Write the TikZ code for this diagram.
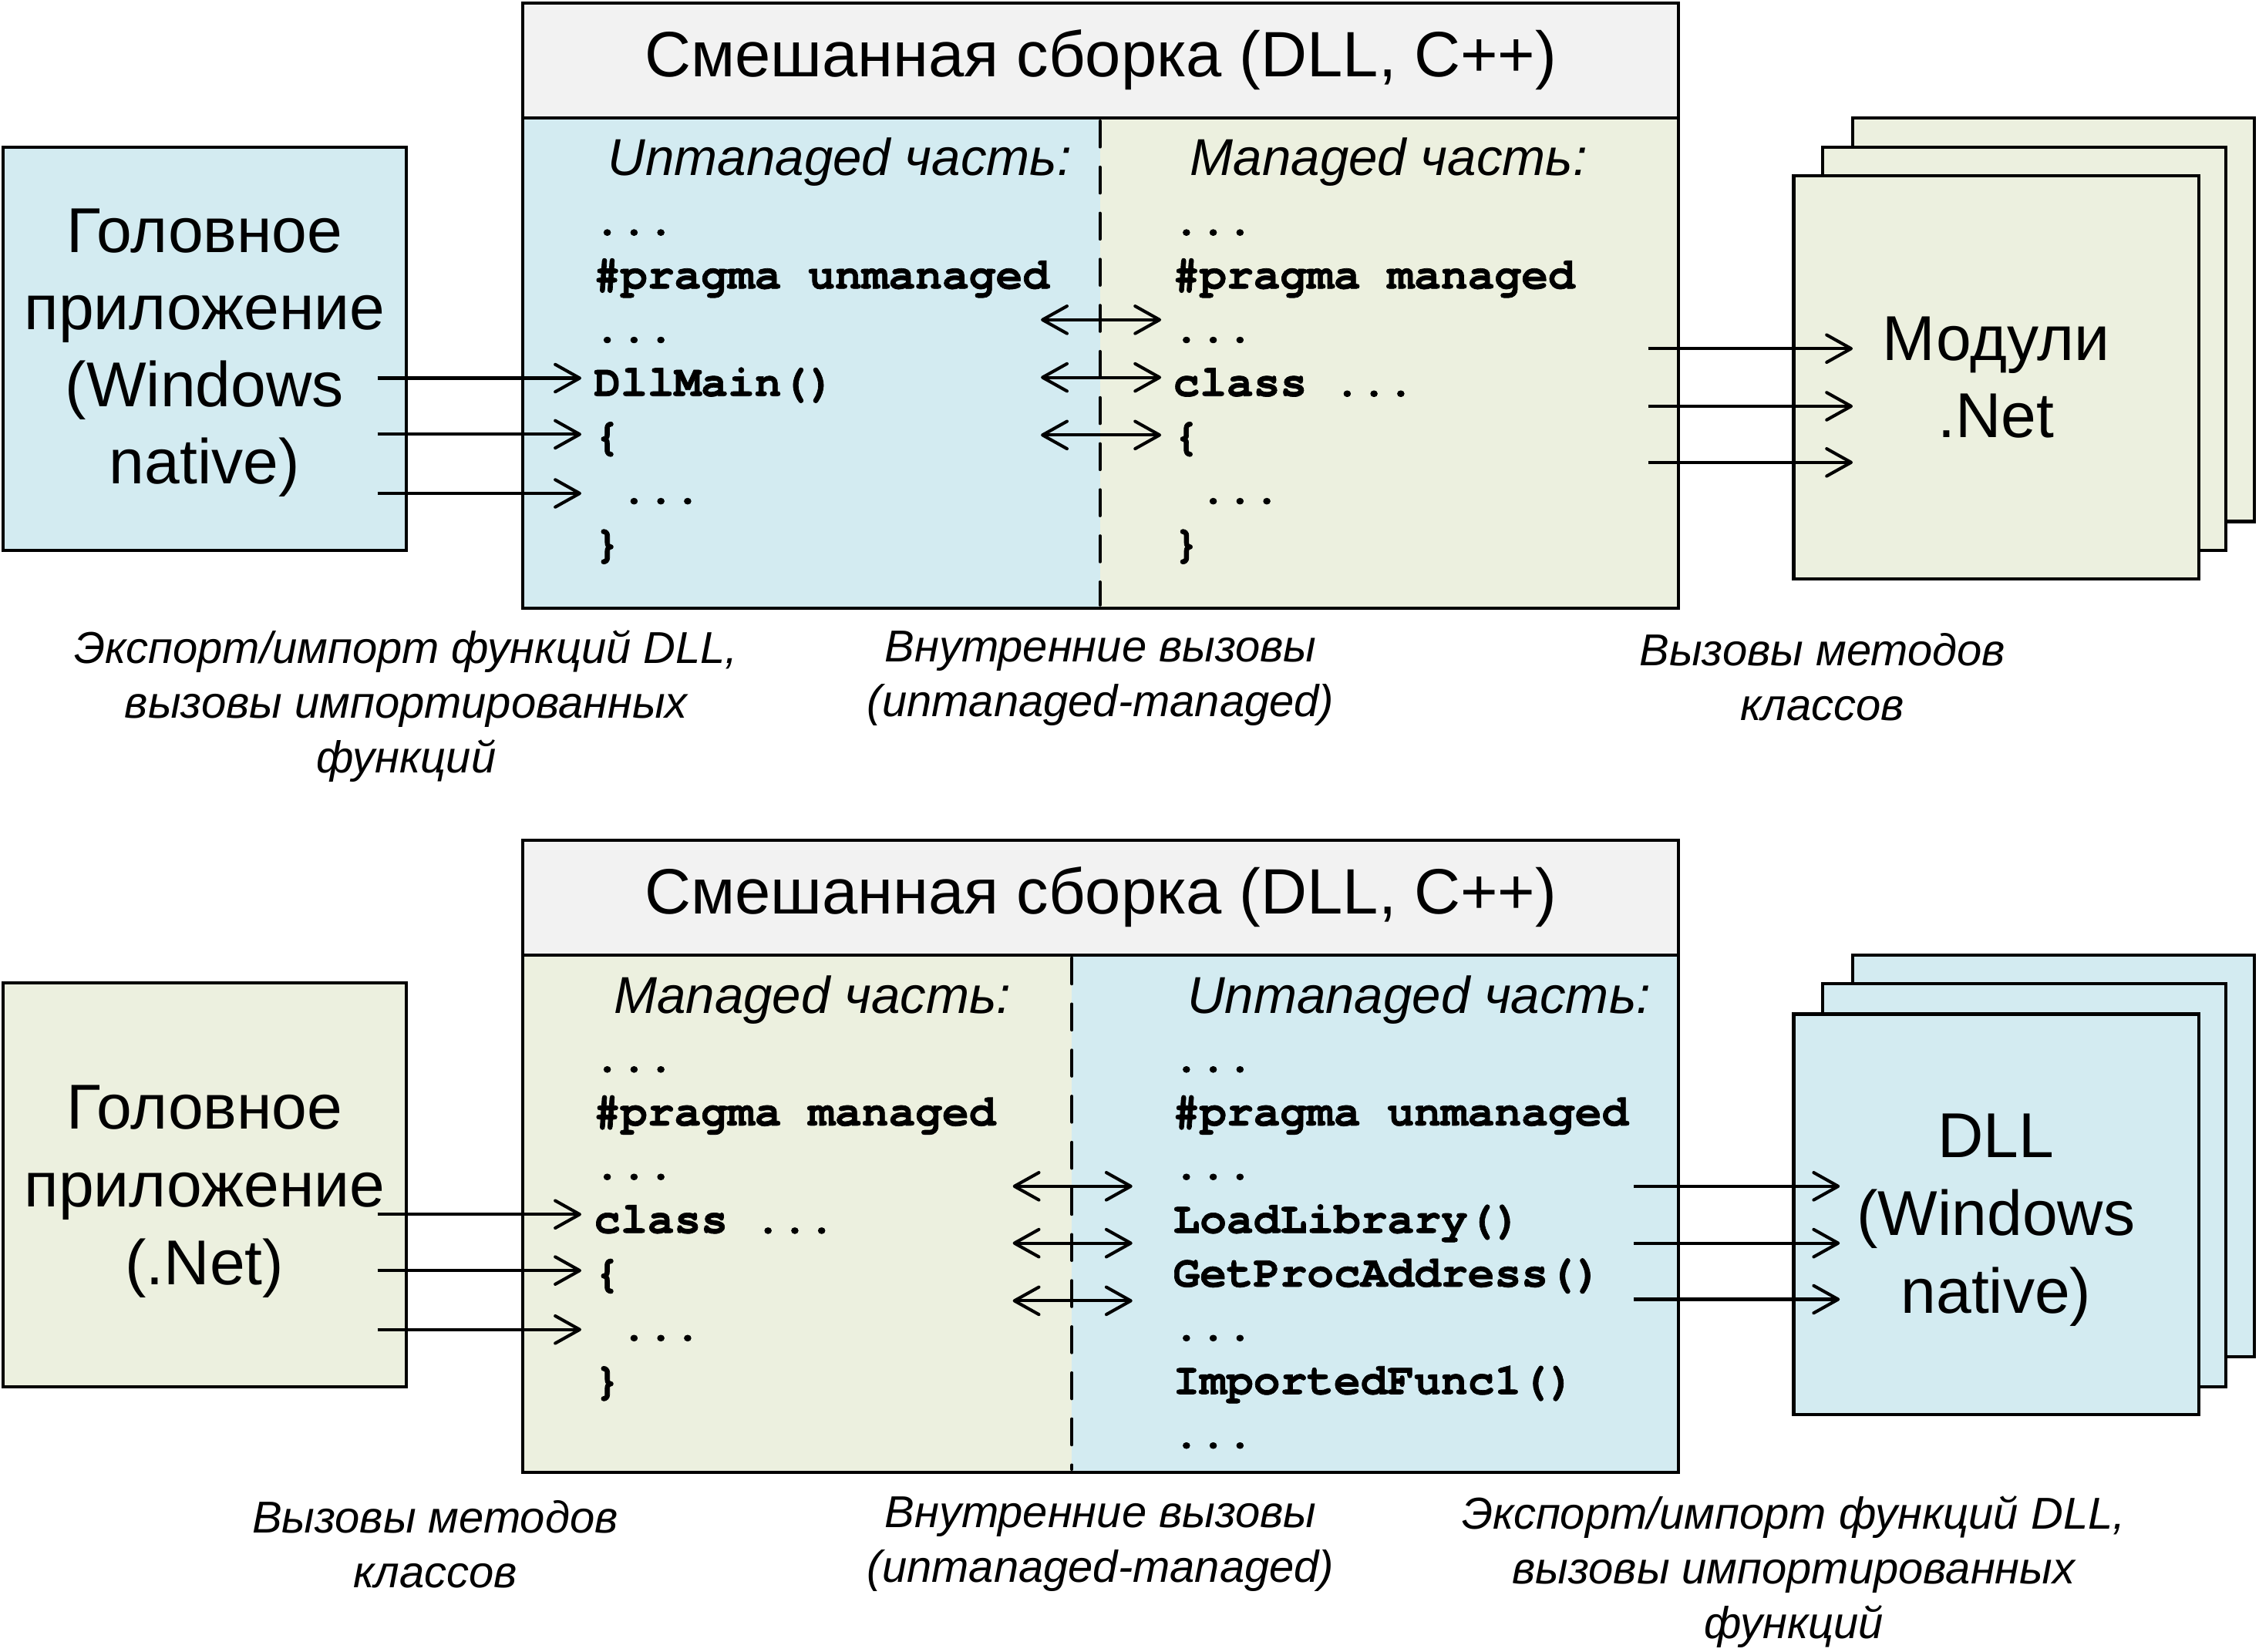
\documentclass[tikz,border=0pt]{standalone}
\usepackage{fontspec}
\setmainfont{Liberation Sans}
\newfontfamily\codefont{TeX Gyre Cursor}[BoldFeatures={FakeBold=1.2}]
\usetikzlibrary{arrows.meta}
\definecolor{blu}{RGB}{211,235,241}
\definecolor{grn}{RGB}{236,240,223}
\definecolor{hdr}{RGB}{242,242,242}
\tikzset{
  box/.style={draw=black, line width=2.2pt},
  arr/.style={line width=2.2pt, -{Straight Barb[length=17pt,width=19pt,round]}},
  darr/.style={line width=2.2pt, {Straight Barb[length=17pt,width=19pt,round]}-{Straight Barb[length=17pt,width=19pt,round]}},
  divider/.style={line width=2.1pt, line cap=round, dash pattern=on 18pt off 14pt},
  code/.style={anchor=base west, inner sep=0pt, font=\codefont\bfseries\fontsize{31}{37}\selectfont},
  titletext/.style={anchor=base, inner sep=0pt, font=\fontsize{44.5}{50}\selectfont},
  parttext/.style={anchor=base, inner sep=0pt, font=\itshape\fontsize{36}{42}\selectfont},
  bigbox/.style={box, align=center, inner sep=0pt, minimum width=280pt, minimum height=280pt, font=\fontsize{44}{53.5}\selectfont},
  captext/.style={align=center, inner sep=0pt, font=\itshape\fontsize{31}{38}\selectfont},
}
\begin{document}
\begin{tikzpicture}[x=1pt,y=-1pt]
\useasboundingbox (0,0) rectangle (1568,1146.8);

% ================= TOP =================
\fill[blu] (363,82) rectangle (763.5,422);
\fill[grn] (763.5,82) rectangle (1165,422);
\fill[hdr] (363,2) rectangle (1165,82);
\draw[box] (363,2) rectangle (1165,422);
\draw[box] (363,82) -- (1165,82);
\draw[divider] (763.5,84) -- (763.5,420);
\node[titletext] (t1) at (764,53) {Смешанная сборка (DLL, C++)};
\node[parttext] (p1a) at (583,122) {Unmanaged часть:};
\node[parttext] (p1b) at (964,122) {Managed часть:};

\draw[box, fill=blu] (2,102) rectangle (282,382);
\node[align=center, inner sep=0pt, font=\fontsize{44}{53.5}\selectfont] (app1) at (142,245) {Головное\\приложение\\(Windows\\native)};

\draw[box, fill=grn] (1286,82) rectangle (1565,362);
\draw[box, fill=grn] (1265,102) rectangle (1545,382);
\node[bigbox, fill=grn, minimum width=281pt] (mod1) at (1385.5,262) {Модули\\.Net};

\node[code] (c1) at (412,163.0) {...};
\node[code] (c2) at (412,200.3) {\#pragma unmanaged};
\node[code] (c3) at (412,237.6) {...};
\node[code] (c4) at (412,274.9) {DllMain()};
\node[code] (c5) at (412,312.2) {\{};
\node[code] (c6) at (412,349.5) {\ ...};
\node[code] (c7) at (412,386.8) {\}};
\node[code] (d1) at (814,163.0) {...};
\node[code] (d2) at (814,200.3) {\#pragma managed};
\node[code] (d3) at (814,237.6) {...};
\node[code] (d4) at (814,274.9) {class ...};
\node[code] (d5) at (814,312.2) {\{};
\node[code] (d6) at (814,349.5) {\ ...};
\node[code] (d7) at (814,386.8) {\}};

\foreach \i/\y in {1/262.5,2/301.5,3/342.5}{
  \coordinate (la\i) at (262,\y);
  \coordinate (lb\i) at (403.5,\y);
  \draw[arr] (la\i) -- (lb\i);
}
\foreach \i/\y in {1/222,2/262,3/302}{
  \coordinate (ma\i) at (722.5,\y);
  \coordinate (mb\i) at (806,\y);
  \draw[darr] (ma\i) -- (mb\i);
}
\foreach \i/\y in {1/242,2/282,3/321}{
  \coordinate (ra\i) at (1144,\y);
  \coordinate (rb\i) at (1286,\y);
  \draw[arr] (ra\i) -- (rb\i);
}

\node[captext] (k1) at (282,490) {Экспорт/импорт функций DLL,\\вызовы импортированных\\функций};
\node[captext] (k2) at (764,471) {Внутренние вызовы\\(unmanaged-managed)};
\node[captext] (k3) at (1265,470) {Вызовы методов\\классов};

% ================= BOTTOM =================
\fill[grn] (363,663) rectangle (744,1022);
\fill[blu] (744,663) rectangle (1165,1022);
\fill[hdr] (363,583.5) rectangle (1165,663);
\draw[box] (363,583.5) rectangle (1165,1022);
\draw[box] (363,663) -- (1165,663);
\draw[divider] (744,665) -- (744,1020);
\node[titletext] (t2) at (764,634.5) {Смешанная сборка (DLL, C++)};
\node[parttext] (p2a) at (564,703.5) {Managed часть:};
\node[parttext] (p2b) at (985,703.5) {Unmanaged часть:};

\draw[box, fill=grn] (2,682.5) rectangle (282,962.5);
\node[align=center, inner sep=0pt, font=\fontsize{44}{54}\selectfont] (app2) at (142,827) {Головное\\приложение\\(.Net)};

\draw[box, fill=blu] (1286,663) rectangle (1565,942);
\draw[box, fill=blu] (1265,683) rectangle (1545,962.5);
\draw[box, fill=blu] (1245,704) rectangle (1526,982);
\node[align=center, inner sep=0pt, font=\fontsize{44}{54}\selectfont] (dll2) at (1385.5,847) {DLL\\(Windows\\native)};

\node[code] (e1) at (412,744.0) {...};
\node[code] (e2) at (412,781.3) {\#pragma managed};
\node[code] (e3) at (412,818.6) {...};
\node[code] (e4) at (412,855.9) {class ...};
\node[code] (e5) at (412,893.2) {\{};
\node[code] (e6) at (412,930.5) {\ ...};
\node[code] (e7) at (412,967.8) {\}};
\node[code] (f1) at (814,744.0) {...};
\node[code] (f2) at (814,781.3) {\#pragma unmanaged};
\node[code] (f3) at (814,818.6) {...};
\node[code] (f4) at (814,855.9) {LoadLibrary()};
\node[code] (f5) at (814,893.2) {GetProcAddress()};
\node[code] (f6) at (814,930.5) {...};
\node[code] (f7) at (814,967.8) {ImportedFunc1()};
\node[code] (f8) at (814,1005.1) {...};

\foreach \i/\y in {1/843,2/882,3/923}{
  \coordinate (lc\i) at (262,\y);
  \coordinate (ld\i) at (403.5,\y);
  \draw[arr] (lc\i) -- (ld\i);
}
\foreach \i/\y in {1/823.5,2/863,3/903}{
  \coordinate (mc\i) at (703,\y);
  \coordinate (md\i) at (786,\y);
  \draw[darr] (mc\i) -- (md\i);
}
\foreach \i/\y in {1/823.5,2/863,3/902}{
  \coordinate (rc\i) at (1134,\y);
  \coordinate (rd\i) at (1277,\y);
  \draw[arr] (rc\i) -- (rd\i);
}

\node[captext] (k4) at (302,1072) {Вызовы методов\\классов};
\node[captext] (k5) at (764,1072) {Внутренние вызовы\\(unmanaged-managed)};
\node[captext] (k6) at (1245,1091) {Экспорт/импорт функций DLL,\\вызовы импортированных\\функций};
\end{tikzpicture}
\end{document}
